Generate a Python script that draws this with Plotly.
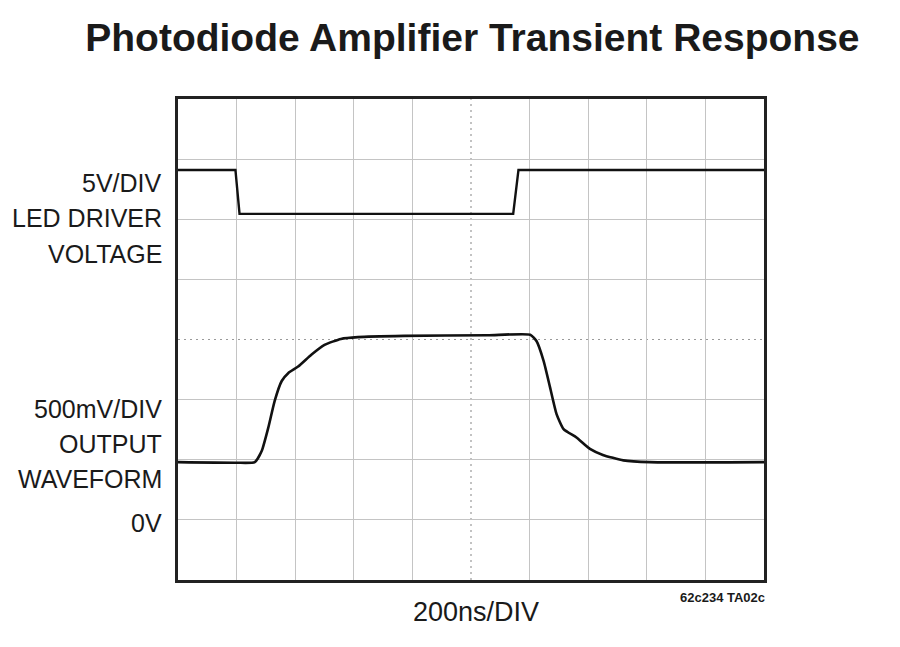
import plotly.graph_objects as go

# scope screen: 10 x 8 divisions, values in divisions
led_t = [0, 0.98, 1.05, 5.72, 5.81, 10]
led_v = [6.82, 6.82, 6.09, 6.09, 6.82, 6.82]

out_t = [0, 1.0, 1.31, 1.43, 1.54, 1.65, 1.77, 1.88, 2.05, 2.28, 2.50, 2.78, 3.07, 3.86, 5.28, 6.01,
         6.12, 6.24, 6.35, 6.46, 6.58, 6.80, 7.03, 7.25, 7.60, 8.05, 10]
out_v = [1.96, 1.95, 1.96, 2.15, 2.53, 2.98, 3.31, 3.44, 3.55, 3.75, 3.91, 4.01, 4.04, 4.06, 4.07, 4.08,
         3.97, 3.64, 3.20, 2.76, 2.51, 2.37, 2.18, 2.08, 1.99, 1.96, 1.96]

side_labels = ["5V/DIV", "LED DRIVER", "VOLTAGE", "500mV/DIV", "OUTPUT", "WAVEFORM", "0V"]
side_label_y = [6.61, 6.02, 5.42, 2.84, 2.26, 1.68, 0.95]

grid_x = [1, 2, 3, 4, 6, 7, 8, 9]
grid_y = [1, 2, 3, 5, 6, 7]

FONT = "Liberation Sans, Arial, sans-serif"

fig = go.Figure()
fig.add_trace(go.Scatter(x=led_t, y=led_v, mode="lines", line=dict(color="#111111", width=2.4)))
fig.add_trace(go.Scatter(x=out_t, y=out_v, mode="lines",
                         line=dict(color="#111111", width=2.6, shape="spline", smoothing=0.5)))

# dotted centre lines
fig.add_shape(type="line", x0=5, x1=5, y0=0, y1=8, xref="x", yref="y",
              line=dict(color="#9a9a9a", width=1.2, dash="2px,4px"), layer="below")
fig.add_shape(type="line", x0=0, x1=10, y0=4, y1=4, xref="x", yref="y",
              line=dict(color="#9a9a9a", width=1.2, dash="2px,4px"), layer="below")

for txt, yv in zip(side_labels, side_label_y):
    fig.add_annotation(text=txt, x=-0.024, xref="paper", y=yv, yref="y", xanchor="right",
                       yanchor="middle", showarrow=False, font=dict(size=25, color="#1a1a1a", family=FONT))

fig.add_annotation(text="200ns/DIV", x=0.508, xref="paper", y=-0.066, yref="paper", xanchor="center",
                   yanchor="middle", showarrow=False, font=dict(size=27, color="#1a1a1a", family=FONT))
fig.add_annotation(text="<b>62c234 TA02c</b>", x=1.005, xref="paper", y=-0.036, yref="paper", xanchor="right",
                   yanchor="middle", showarrow=False, font=dict(size=13, color="#1a1a1a", family=FONT))

fig.update_layout(
    width=900, height=647,
    margin=dict(l=170, r=144, t=91, b=75),
    paper_bgcolor="white", plot_bgcolor="white",
    showlegend=False,
    title=dict(text="<b>Photodiode Amplifier Transient Response</b>", x=0.516, xanchor="center",
               y=0.954, yanchor="middle", font=dict(size=39, color="#1a1a1a", family=FONT)),
)
fig.update_xaxes(range=[0, 10], tickvals=grid_x, showticklabels=False, ticks="",
                 showgrid=True, gridcolor="#c4c4c4", gridwidth=1.2, zeroline=False,
                 showline=True, linecolor="#222222", linewidth=2.5, mirror=True)
fig.update_yaxes(range=[0, 8], tickvals=grid_y, showticklabels=False, ticks="",
                 showgrid=True, gridcolor="#c4c4c4", gridwidth=1.2, zeroline=False,
                 showline=True, linecolor="#222222", linewidth=2.5, mirror=True)

fig.write_html("out.html")
